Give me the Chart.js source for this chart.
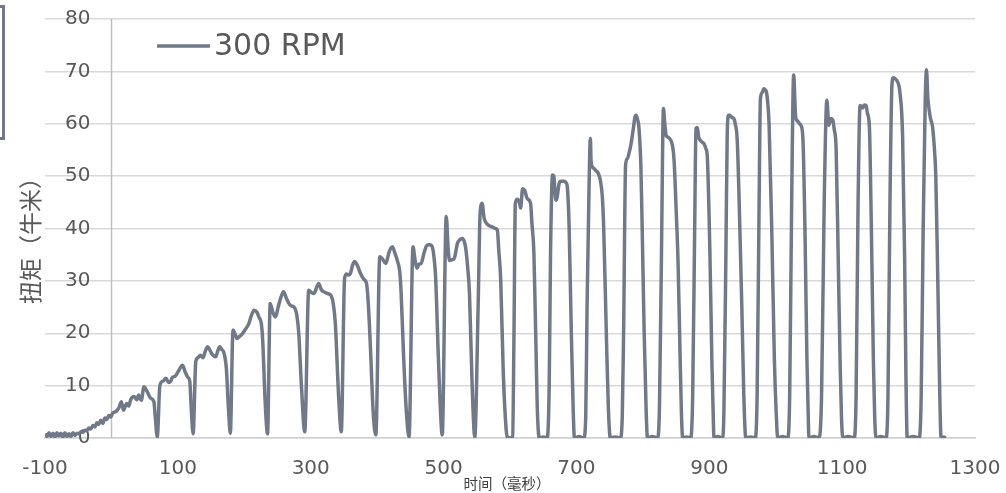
<!DOCTYPE html>
<html>
<head>
<meta charset="utf-8">
<script src="https://cdn.jsdelivr.net/npm/chart.js@4"></script>
<style>
  html, body { margin: 0; padding: 0; background: #fff; }
  #wrap { width: 1006px; height: 493px; }
</style>
</head>
<body>
<div id="wrap"><canvas id="torqueChart"></canvas></div>
<script>
const timeMs = [
  -100,-97,-94,-91,-88,-85,-82,-79,-76,-73,-70,-67,-64,-61,-58,-55,-52,-49,-46,-43,-40,-37,-34,-31,-28,-25,-22,-19,-16,-13,-10,-7,-4,-1,
  2,6,11,15,18,23,26,29,34,38,41,45,49,54,59,64,66,69,
  73,78,82,86,89,92,96,101,107,111,115,118,120,123,
  127,131,134,138,141,145,149,152,157,160,163,166,169,173,176,179,
  183,186,189,193,197,202,207,211,215,219,222,226,228,231,235,
  239,243,247,251,255,259,263,267,271,275,279,282,286,291,
  297,301,305,309,312,316,320,325,330,334,337,342,346,
  351,354,357,360,363,366,370,375,380,384,387,390,394,398,
  404,408,413,418,423,427,431,434,436,440,444,448,
  454,457,460,463,466,471,475,479,483,486,488,492,495,498,
  504,507,509,512,516,521,524,528,531,533,536,539,543,547,
  552,555,558,561,563,568,573,578,581,583,586,590,594,596,600,604,
  606,608,611,614,616,619,622,626,631,633,636,639,641,644,650,656,
  659,661,664,666,669,671,674,677,681,684,686,689,692,695,697,704,711,
  714,716,719,721,722,724,727,729,733,736,739,741,745,748,751,758,766,
  769,771,774,777,779,782,786,788,790,792,794,797,799,802,805,807,814,822,
  825,828,831,833,835,837,840,843,845,847,850,853,856,858,860,866,872,
  875,878,880,882,884,886,889,892,895,897,901,904,906,907,913,920,
  922,925,927,929,931,934,937,939,942,945,949,952,955,962,969,
  972,975,977,980,982,984,986,988,990,994,998,1001,1003,1010,1018,
  1021,1024,1027,1030,1033,1036,1038,1041,1044,1047,1049,1050,1057,1065,
  1069,1073,1077,1080,1083,1086,1088,1091,1094,1097,1099,1101,1109,1118,
  1121,1124,1127,1131,1133,1136,1138,1141,1144,1147,1149,1151,1158,1166,
  1169,1172,1175,1177,1180,1182,1185,1187,1191,1194,1196,1198,1207,1216,
  1219,1222,1225,1227,1229,1231,1233,1236,1239,1241,1244,1247,1249,1253,1256
];
const torque = [
  0.8,0.3,1.0,0.3,0.9,0.2,1.0,0.4,0.9,0.2,1.0,0.3,0.8,0.3,1.0,0.5,0.9,0.8,1.2,1.1,1.5,1.4,1.9,1.7,2.4,2.1,2.9,2.6,3.4,2.8,3.8,3.5,4.3,4.0,
  4.8,5.0,5.7,6.9,5.3,6.6,6.1,7.3,7.9,7.3,8.2,7.2,9.8,8.8,7.6,6.9,4.0,0.2,
  10.1,10.9,11.4,10.6,10.8,11.6,11.8,12.8,13.9,12.6,11.6,10.8,6.0,0.8,
  14.6,15.4,15.8,15.3,16.5,17.4,16.6,15.9,15.5,16.6,17.4,16.9,16.4,13.3,6.0,0.9,
  20.6,19.9,19.0,19.4,19.9,20.8,21.9,23.5,24.4,24.0,23.1,21.5,18.0,8.0,0.8,
  25.7,24.0,23.1,25.0,26.8,27.9,26.8,25.7,25.2,25.0,23.5,20.0,10.0,1.2,
  28.2,27.8,27.6,28.8,29.5,28.3,27.9,27.6,27.3,25.6,22.0,8.0,1.2,
  30.5,31.3,31.1,31.5,33.0,33.7,33.0,31.4,30.3,29.5,25.0,17.0,5.0,0.6,
  34.6,34.2,33.3,35.5,36.5,35.2,33.6,31.8,28.0,15.0,5.0,0.2,
  36.5,34.0,32.4,33.2,33.3,35.5,36.8,36.9,36.5,34.0,30.8,16.0,6.0,0.6,
  42.3,36.0,33.9,34.0,34.3,37.2,37.8,38.1,37.6,36.5,33.0,27.6,10.0,0.2,
  25.0,42.9,44.8,42.0,41.3,40.6,40.3,40.0,39.7,36.0,30.2,12.0,2.0,0.2,0.0,0.3,
  20.0,44.8,45.6,45.0,43.9,47.6,47.3,45.7,44.8,41.0,35.2,18.0,6.0,0.0,0.2,0.0,
  10.0,35.0,50.2,50.0,45.4,46.0,48.6,49.0,49.0,48.8,48.2,40.3,22.0,6.0,0.0,0.3,0.0,
  4.0,25.0,48.0,57.2,53.0,51.8,51.4,51.1,50.5,49.2,46.0,40.3,20.0,6.0,0.0,0.2,0.0,
  4.0,20.0,52.1,53.4,54.3,56.0,59.4,61.2,61.6,60.8,59.4,52.0,40.0,20.0,5.0,0.0,0.3,0.0,
  6.0,35.0,62.9,60.0,57.8,57.5,57.2,56.6,55.5,53.0,44.0,33.5,16.0,5.0,0.0,0.2,0.0,
  8.0,40.0,59.1,59.3,57.5,56.9,56.5,56.2,55.2,53.7,35.0,14.0,4.0,0.0,0.3,0.0,
  5.0,35.0,58.0,61.6,61.6,61.2,61.0,60.0,57.0,45.0,25.0,8.0,0.0,0.2,0.0,
  8.0,45.0,64.8,66.0,66.7,66.5,66.1,64.0,60.0,40.0,15.0,4.0,0.0,0.3,0.0,
  8.0,45.0,69.3,61.3,60.5,60.0,59.7,57.0,40.0,15.0,4.0,0.0,0.3,0.0,
  8.0,45.0,64.5,59.7,61.0,60.7,59.0,55.0,35.0,14.0,4.0,0.0,0.3,0.0,
  8.0,45.0,63.5,63.0,63.6,63.5,62.0,59.5,40.0,15.0,4.0,0.0,0.3,0.0,
  8.0,45.0,67.5,68.8,68.6,68.3,67.5,66.0,57.7,35.0,12.0,0.0,0.3,0.0,
  8.0,40.0,64.0,70.3,65.0,62.6,61.0,59.5,55.0,50.0,30.0,8.0,0.0,0.2,0.0
];
const xTickValues = [-100, 100, 300, 500, 700, 900, 1100, 1300];
const seriesLabel = "300 RPM";
const yTitle = "扭矩（牛米）";
const xTitle = "时间（毫秒）";

const lineColor = "#717989";
const labelColor = "#595959";

// vertical axis line where time = 0 (Excel-style crossing axis)
const zeroAxisPlugin = {
  id: "zeroAxis",
  beforeDatasetsDraw(chart) {
    const { ctx, chartArea, scales } = chart;
    const x0 = Math.round(scales.x.getPixelForValue(0)) + 0.5;
    ctx.save();
    ctx.strokeStyle = "#bfbfbf";
    ctx.lineWidth = 1.5;
    ctx.beginPath();
    ctx.moveTo(x0, chartArea.top);
    ctx.lineTo(x0, chartArea.bottom);
    ctx.stroke();
    ctx.restore();
  }
};

// titles, in-plot legend and the cut-off frame at the left edge
const decorPlugin = {
  id: "decor",
  afterDraw(chart) {
    const ctx = chart.ctx;
    ctx.save();
    ctx.strokeStyle = lineColor;
    ctx.lineWidth = 3;
    ctx.beginPath();
    ctx.moveTo(0, 6.5);
    ctx.lineTo(3.5, 6.5);
    ctx.lineTo(3.5, 138.5);
    ctx.lineTo(0, 138.5);
    ctx.stroke();

    // legend
    ctx.lineWidth = 3.5;
    ctx.beginPath();
    ctx.moveTo(157, 46);
    ctx.lineTo(210, 46);
    ctx.stroke();
    ctx.fillStyle = labelColor;
    ctx.font = '30px "DejaVu Sans"';
    ctx.textAlign = "left";
    ctx.textBaseline = "middle";
    ctx.fillText(chart.data.datasets[0].label, 214, 47);

    // y title
    ctx.translate(30, 235);
    ctx.rotate(-Math.PI / 2);
    ctx.font = '23px "Noto Sans CJK SC"';
    ctx.textAlign = "center";
    ctx.fillText(yTitle, 0, 0);
    ctx.restore();

    ctx.save();
    ctx.fillStyle = "#404040";
    ctx.font = '14.5px "Noto Sans CJK SC"';
    ctx.textAlign = "center";
    ctx.textBaseline = "middle";
    ctx.fillText(xTitle, 507, 483);
    ctx.restore();
  }
};

new Chart(document.getElementById("torqueChart"), {
  type: "line",
  data: {
    datasets: [{
      label: seriesLabel,
      data: timeMs.map((t, i) => ({ x: t, y: torque[i] })),
      borderColor: lineColor,
      borderWidth: 3.5,
      pointRadius: 0,
      fill: false,
      cubicInterpolationMode: "monotone"
    }]
  },
  options: {
    responsive: true,
    maintainAspectRatio: false,
    animation: false,
    layout: { padding: { left: 45, right: 31, top: 19, bottom: 0 } },
    plugins: { legend: { display: false }, tooltip: { enabled: false } },
    scales: {
      x: {
        type: "linear",
        min: -100,
        max: 1300,
        position: "bottom",
        afterFit: (s) => {
          s.height = 55;
          s.paddingLeft = 0;
          s.paddingRight = 0;
        },
        afterBuildTicks: (s) => { s.ticks = xTickValues.map(v => ({ value: v })); },
        grid: { display: false, drawTicks: false },
        border: { display: true, color: "#d0d0d0", width: 1.5 },
        ticks: {
          autoSkip: false,
          maxRotation: 0,
          padding: 19,
          color: labelColor,
          font: { family: "DejaVu Sans", size: 20 },
          callback: (v) => String(v)
        }
      },
      y: {
        min: 0,
        max: 80,
        position: "left",
        afterFit: (s) => {
          s.width = 0;
          s.paddingTop = 0;
          s.paddingBottom = 0;
        },
        grid: { color: "#d9d9d9", lineWidth: 1.5, drawTicks: false },
        border: { display: false },
        ticks: {
          stepSize: 10,
          mirror: true,
          crossAlign: "far",
          padding: 20,
          color: labelColor,
          font: { family: "DejaVu Sans", size: 20 },
          callback: (v) => String(v)
        }
      }
    }
  },
  plugins: [zeroAxisPlugin, decorPlugin]
});
</script>
</body>
</html>
